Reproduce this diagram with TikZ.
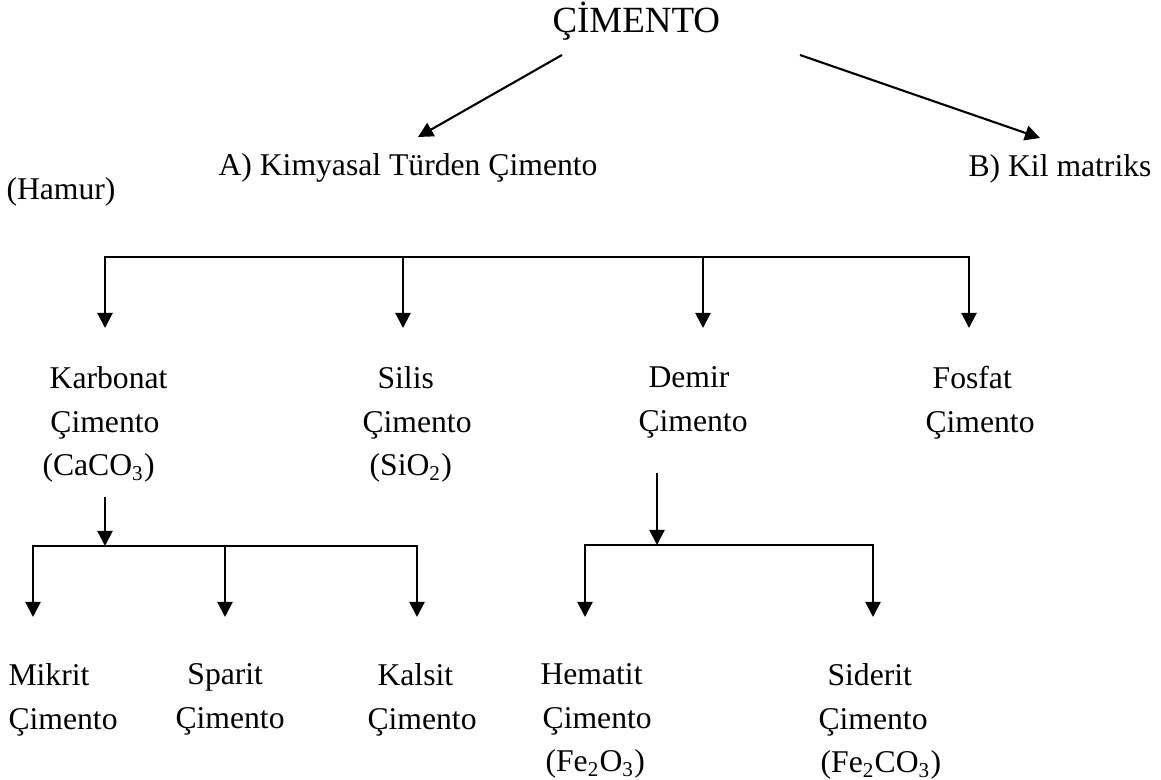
\documentclass[tikz,border=0pt]{standalone}
\usepackage{fontspec}
\setmainfont{Liberation Serif}
\usetikzlibrary{arrows.meta}

\begin{document}
\begin{tikzpicture}[
          x=0.379pt, y=-0.379pt,
          title/.style={inner sep=0pt, anchor=base west, font=\fontsize{14}{17}\selectfont},
          lbl/.style={inner sep=0pt, anchor=base west, font=\fontsize{12}{16.5}\selectfont},
          group/.style={inner sep=0pt, anchor=north west, align=left,
                        font=\fontsize{12}{16.5}\selectfont},
          ln/.style={line width=0.8pt, line cap=rect},
          arr/.style={-{Triangle[length=5.7pt, width=5.7pt]}, line width=0.8pt}
        ]
        \useasboundingbox (0,0) rectangle (1161,780);
        % headings
        \node[title] (cim)   at (552,33)  {ÇİMENTO};
        \node[lbl]   (kimya) at (218,176) {A) Kimyasal Türden Çimento};
        \node[lbl]   (kil)   at (968,177) {B) Kil matriks};
        \node[lbl]   (hamur) at (6,200)   {(Hamur)};
        % first level
        \node[group] (karb) at (42,366)  {\hspace*{2.7pt}Karbonat\\\hspace*{3pt}Çimento\\(CaCO\textsubscript{3})};
        \node[group] (sil)  at (362,366) {\hspace*{5.7pt}Silis\\Çimento\\\hspace*{2.7pt}(SiO\textsubscript{2})};
        \node[group] (dem)  at (638,366) {\hspace*{3.8pt}Demir\\Çimento};
        \node[group] (fos)  at (925,366) {\hspace*{2.7pt}Fosfat\\Çimento};
        % second level
        \node[group] (mik) at (8,663)   {Mikrit\\Çimento};
        \node[group] (spa) at (175,663) {\hspace*{4.5pt}Sparit\\Çimento};
        \node[group] (kal) at (367,663) {\hspace*{3.8pt}Kalsit\\Çimento};
        \node[group] (hem) at (540,663) {Hematit\\\hspace*{0.8pt}Çimento\\\hspace*{1.9pt}(Fe\textsubscript{2}O\textsubscript{3})};
        \node[group] (sid) at (818,663) {\hspace*{3.4pt}Siderit\\Çimento\\\hspace*{0.8pt}(Fe\textsubscript{2}CO\textsubscript{3})};
        % arrow ends
        \coordinate (cimL)  at (562,55);
        \coordinate (cimR)  at (800,55);
        \coordinate (kimyaT) at (418,137);
        \coordinate (kilT)  at (1040,138);
        \draw[arr] (cimL) -- (kimyaT);
        \draw[arr] (cimR) -- (kilT);
        % main bracket
        \coordinate (h1a) at (105,257);
        \coordinate (h1b) at (403,257);
        \coordinate (h1c) at (703,257);
        \coordinate (h1d) at (969,257);
        \coordinate (karbT) at (105,328);
        \coordinate (silT)  at (403,328);
        \coordinate (demT)  at (703,328);
        \coordinate (fosT)  at (969,328);
        \draw[ln] (h1a) -- (h1d);
        \draw[arr] (h1a) -- (karbT);
        \draw[arr] (h1b) -- (silT);
        \draw[arr] (h1c) -- (demT);
        \draw[arr] (h1d) -- (fosT);
        % karbonat bracket
        \coordinate (karbB) at (105,497);
        \coordinate (h2)  at (105,546);
        \coordinate (h2a) at (33,546);
        \coordinate (h2b) at (225,546);
        \coordinate (h2c) at (417,546);
        \coordinate (mikT) at (33,617);
        \coordinate (spaT) at (225,617);
        \coordinate (kalT) at (417,617);
        \draw[arr] (karbB) -- (h2);
        \draw[ln] (h2a) -- (h2c);
        \draw[arr] (h2a) -- (mikT);
        \draw[arr] (h2b) -- (spaT);
        \draw[arr] (h2c) -- (kalT);
        % demir bracket
        \coordinate (demB) at (657,473);
        \coordinate (h3)  at (657,545);
        \coordinate (h3a) at (585,545);
        \coordinate (h3b) at (873,545);
        \coordinate (hemT) at (585,617);
        \coordinate (sidT) at (873,617);
        \draw[arr] (demB) -- (h3);
        \draw[ln] (h3a) -- (h3b);
        \draw[arr] (h3a) -- (hemT);
        \draw[arr] (h3b) -- (sidT);
      \end{tikzpicture}
\end{document}
